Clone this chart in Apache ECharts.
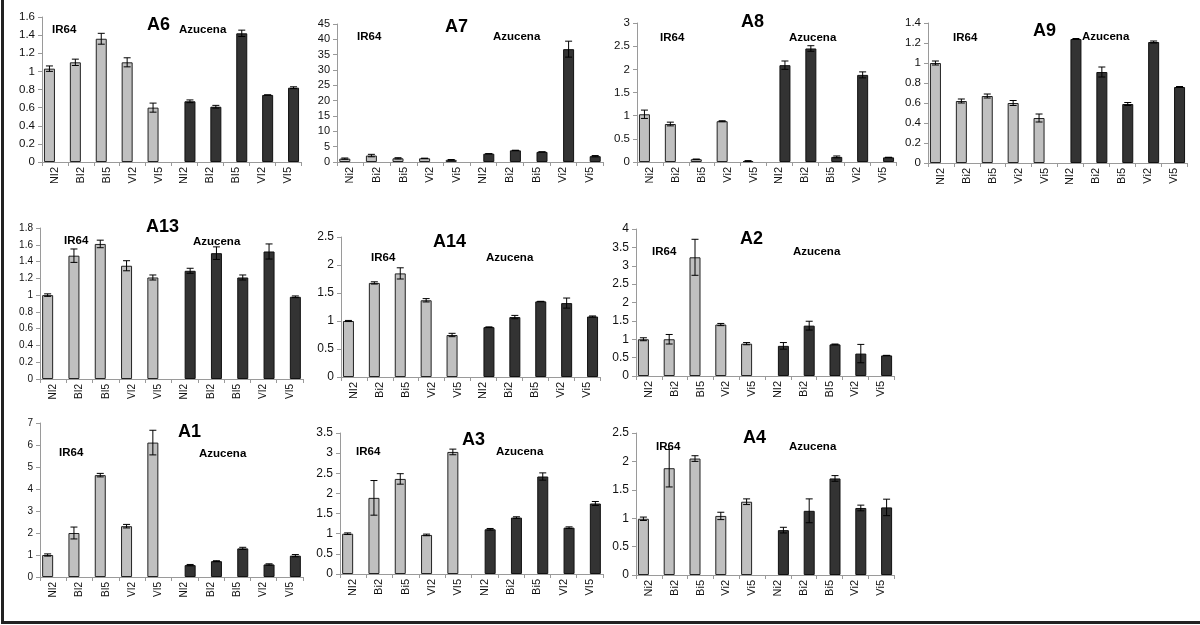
<!DOCTYPE html>
<html>
<head>
<meta charset="utf-8">
<title>IR64 / Azucena expression</title>
<script src="https://cdn.jsdelivr.net/npm/echarts@6/dist/echarts.min.js"></script>
<style>
  html, body { margin: 0; padding: 0; background: #fff; }
  #main { width: 1200px; height: 625px; }
</style>
</head>
<body>
<div id="main"></div>
<script>
// category labels (they differ slightly from panel to panel in the figure)
var catsUpper = ['NI2', 'BI2', 'BI5', 'VI2', 'VI5', 'NI2', 'BI2', 'BI5', 'VI2', 'VI5'];
var catsLower = ['Ni2', 'Bi2', 'Bi5', 'Vi2', 'Vi5', 'Ni2', 'Bi2', 'Bi5', 'Vi2', 'Vi5'];
var catsA7 = ['Ni2', 'Bi2', 'Bi5', 'Vi2', 'Vi5', 'NI2', 'Bi2', 'Bi5', 'Vi2', 'Vi5'];
var catsA9 = ['NI2', 'Bi2', 'Bi5', 'Vi2', 'Vi5', 'NI2', 'Bi2', 'Bi5', 'Vi2', 'Vi5'];
var catsA2 = ['NI2', 'Bi2', 'BI5', 'Vi2', 'Vi5', 'NI2', 'Bi2', 'BI5', 'Vi2', 'Vi5'];
var catsA3 = ['NI2', 'Bi2', 'Bi5', 'VI2', 'VI5', 'NI2', 'Bi2', 'Bi5', 'VI2', 'VI5'];

// values: IR64 (grey) and Azucena (black), with error bars
var a6Ir64 = [1.03, 1.10, 1.36, 1.10, 0.60];
var a6Ir64Err = [0.03, 0.035, 0.06, 0.05, 0.05];
var a6Azu = [0.67, 0.61, 1.42, 0.74, 0.82];
var a6AzuErr = [0.015, 0.015, 0.035, 0, 0.01];

var a7Ir64 = [1.1, 2.1, 1.2, 1.2, 0.7];
var a7Ir64Err = [0.2, 0.4, 0.2, 0, 0.1];
var a7Azu = [2.7, 3.8, 3.3, 36.8, 1.9];
var a7AzuErr = [0, 0, 0, 2.6, 0.2];

var a8Ir64 = [1.03, 0.82, 0.06, 0.88, 0.02];
var a8Ir64Err = [0.09, 0.04, 0, 0.01, 0.01];
var a8Azu = [2.09, 2.45, 0.11, 1.88, 0.1];
var a8AzuErr = [0.09, 0.06, 0.02, 0.065, 0];

var a9Ir64 = [1.0, 0.62, 0.67, 0.60, 0.45];
var a9Ir64Err = [0.02, 0.02, 0.02, 0.025, 0.04];
var a9Azu = [1.24, 0.91, 0.59, 1.21, 0.76];
var a9AzuErr = [0.005, 0.05, 0.015, 0.01, 0.005];

var a13Ir64 = [1.0, 1.47, 1.61, 1.35, 1.21];
var a13Ir64Err = [0.015, 0.08, 0.045, 0.06, 0.03];
var a13Azu = [1.29, 1.50, 1.21, 1.52, 0.98];
var a13AzuErr = [0.03, 0.075, 0.03, 0.09, 0.01];

var a14Ir64 = [1.0, 1.68, 1.85, 1.37, 0.75];
var a14Ir64Err = [0.01, 0.02, 0.1, 0.03, 0.03];
var a14Azu = [0.89, 1.07, 1.35, 1.32, 1.08];
var a14AzuErr = [0.005, 0.03, 0, 0.09, 0.01];

var a2Ir64 = [1.0, 1.0, 3.23, 1.4, 0.88];
var a2Ir64Err = [0.04, 0.13, 0.49, 0.03, 0.03];
var a2Azu = [0.82, 1.37, 0.86, 0.61, 0.56];
var a2AzuErr = [0.09, 0.12, 0.01, 0.25, 0];

var a1Ir64 = [1.0, 2.0, 4.63, 2.31, 6.11];
var a1Ir64Err = [0.05, 0.27, 0.08, 0.08, 0.56];
var a1Azu = [0.54, 0.72, 1.30, 0.57, 0.97];
var a1AzuErr = [0.03, 0.02, 0.05, 0.03, 0.05];

var a3Ir64 = [1.0, 1.89, 2.36, 0.97, 3.03];
var a3Ir64Err = [0.02, 0.43, 0.13, 0.02, 0.07];
var a3Azu = [1.11, 1.40, 2.42, 1.15, 1.75];
var a3AzuErr = [0.02, 0.02, 0.09, 0.02, 0.05];

var a4Ir64 = [0.99, 1.88, 2.05, 1.04, 1.29];
var a4Ir64Err = [0.03, 0.33, 0.05, 0.065, 0.05];
var a4Azu = [0.79, 1.13, 1.70, 1.18, 1.19];
var a4AzuErr = [0.05, 0.21, 0.05, 0.05, 0.145];

// layout: grid box [left, top, width, height], label anchors [x, y]
var panels = [
  {name: 'A6', cats: catsUpper, ir: a6Ir64, irErr: a6Ir64Err, az: a6Azu, azErr: a6AzuErr, max: 1.6, step: 0.2,
   box: [42, 17, 259, 145], yFont: 11.5, xFont: 11, title: [147, 25], irPos: [52, 30], azPos: [179, 30]},
  {name: 'A7', cats: catsA7, ir: a7Ir64, irErr: a7Ir64Err, az: a7Azu, azErr: a7AzuErr, max: 45, step: 5,
   box: [337, 24, 266, 138], yFont: 11, xFont: 11, title: [445, 27], irPos: [357, 37], azPos: [493, 37]},
  {name: 'A8', cats: catsA7, ir: a8Ir64, irErr: a8Ir64Err, az: a8Azu, azErr: a8AzuErr, max: 3, step: 0.5,
   box: [637, 23, 259, 139], yFont: 11.5, xFont: 11, title: [741, 22], irPos: [660, 38], azPos: [789, 38]},
  {name: 'A9', cats: catsA9, ir: a9Ir64, irErr: a9Ir64Err, az: a9Azu, azErr: a9AzuErr, max: 1.4, step: 0.2,
   box: [928, 23, 259, 140], yFont: 11.5, xFont: 11, title: [1033, 31], irPos: [953, 38], azPos: [1082, 37]},
  {name: 'A13', cats: catsUpper, ir: a13Ir64, irErr: a13Ir64Err, az: a13Azu, azErr: a13AzuErr, max: 1.8, step: 0.2,
   box: [40, 228, 263, 151], yFont: 10, xFont: 10, title: [146, 227], irPos: [64, 241], azPos: [193, 242]},
  {name: 'A14', cats: catsA9, ir: a14Ir64, irErr: a14Ir64Err, az: a14Azu, azErr: a14AzuErr, max: 2.5, step: 0.5,
   box: [341, 237, 259, 140], yFont: 12, xFont: 11, title: [433, 242], irPos: [371, 258], azPos: [486, 258]},
  {name: 'A2', cats: catsA2, ir: a2Ir64, irErr: a2Ir64Err, az: a2Azu, azErr: a2AzuErr, max: 4, step: 0.5,
   box: [636, 229, 258, 147], yFont: 12, xFont: 11, title: [740, 239], irPos: [652, 252], azPos: [793, 252]},
  {name: 'A1', cats: catsUpper, ir: a1Ir64, irErr: a1Ir64Err, az: a1Azu, azErr: a1AzuErr, max: 7, step: 1,
   box: [40, 423, 263, 154], yFont: 10, xFont: 10, title: [178, 432], irPos: [59, 453], azPos: [199, 454]},
  {name: 'A3', cats: catsA3, ir: a3Ir64, irErr: a3Ir64Err, az: a3Azu, azErr: a3AzuErr, max: 3.5, step: 0.5,
   box: [340, 433, 263, 141], yFont: 12, xFont: 11, title: [462, 440], irPos: [356, 452], azPos: [496, 452]},
  {name: 'A4', cats: catsLower, ir: a4Ir64, irErr: a4Ir64Err, az: a4Azu, azErr: a4AzuErr, max: 2.5, step: 0.5,
   box: [636, 433, 258, 142], yFont: 12, xFont: 11, title: [743, 438], irPos: [656, 447], azPos: [789, 447]}
];

var FONT = '"Liberation Sans", Arial, sans-serif';
var BAR_W = 11;

function blanks(n) {
    var a = [];
    for (var i = 0; i < n; i++) a.push('-');
    return a;
}

// error bar drawn at the bar's centre (bars sit side by side, so +-half a bar)
function errRenderer(offset) {
    return function (params, api) {
        var i = api.value(0), v = api.value(1), e = api.value(2);
        var hi = api.coord([i, v + e]);
        var lo = api.coord([i, v - e]);
        var x = hi[0] + offset;
        var st = {stroke: '#000', lineWidth: 1};
        return {
            type: 'group',
            children: [
                {type: 'line', shape: {x1: x, y1: hi[1], x2: x, y2: lo[1]}, style: st},
                {type: 'line', shape: {x1: x - 3.5, y1: hi[1], x2: x + 3.5, y2: hi[1]}, style: st},
                {type: 'line', shape: {x1: x - 3.5, y1: lo[1], x2: x + 3.5, y2: lo[1]}, style: st}
            ]
        };
    };
}

var grids = [], xAxes = [], yAxes = [], series = [], texts = [];

panels.forEach(function (p, k) {
    grids.push({left: p.box[0], top: p.box[1], width: p.box[2], height: p.box[3], containLabel: false});
    xAxes.push({
        type: 'category', gridIndex: k, data: p.cats,
        axisLine: {lineStyle: {color: '#9a9a9a', width: 1}},
        axisTick: {show: true, length: 4, lineStyle: {color: '#9a9a9a'}},
        axisLabel: {rotate: 90, margin: 5, color: '#111', fontSize: p.xFont, fontFamily: FONT}
    });
    yAxes.push({
        type: 'value', gridIndex: k, min: 0, max: p.max, interval: p.step,
        axisLine: {show: true, lineStyle: {color: '#9a9a9a', width: 1}},
        axisTick: {show: true, length: 4, lineStyle: {color: '#9a9a9a'}},
        splitLine: {show: false},
        axisLabel: {margin: 7, color: '#111', fontSize: p.yFont, fontFamily: FONT}
    });

    series.push({
        type: 'bar', xAxisIndex: k, yAxisIndex: k, barWidth: BAR_W, barGap: '0%',
        data: p.ir.concat(blanks(5)),
        itemStyle: {color: '#c0c0c0', borderColor: '#222', borderWidth: 1},
        silent: true
    });
    series.push({
        type: 'bar', xAxisIndex: k, yAxisIndex: k, barWidth: BAR_W, barGap: '0%',
        data: blanks(5).concat(p.az),
        itemStyle: {color: '#333333', borderColor: '#111', borderWidth: 1},
        silent: true
    });

    var irE = p.ir.map(function (v, i) { return [i, v, p.irErr[i]]; });
    var azE = p.az.map(function (v, i) { return [i + 5, v, p.azErr[i]]; });
    series.push({type: 'custom', xAxisIndex: k, yAxisIndex: k, z: 5, silent: true,
        renderItem: errRenderer(-BAR_W / 2), data: irE});
    series.push({type: 'custom', xAxisIndex: k, yAxisIndex: k, z: 5, silent: true,
        renderItem: errRenderer(BAR_W / 2), data: azE});

    texts.push({type: 'text', x: p.title[0], y: p.title[1], z: 10,
        style: {text: p.name, font: 'bold 18px ' + FONT, fill: '#000', textVerticalAlign: 'middle'}});
    texts.push({type: 'text', x: p.irPos[0], y: p.irPos[1], z: 10,
        style: {text: 'IR64', font: 'bold 11.5px ' + FONT, fill: '#000', textVerticalAlign: 'middle'}});
    texts.push({type: 'text', x: p.azPos[0], y: p.azPos[1], z: 10,
        style: {text: 'Azucena', font: 'bold 11.5px ' + FONT, fill: '#000', textVerticalAlign: 'middle'}});
});

// outer frame of the figure (left and bottom edges)
texts.push({type: 'line', shape: {x1: 2.5, y1: 0, x2: 2.5, y2: 622}, style: {stroke: '#222', lineWidth: 3}});
texts.push({type: 'line', shape: {x1: 1, y1: 622.5, x2: 1200, y2: 622.5}, style: {stroke: '#222', lineWidth: 3}});

var myChart = echarts.init(document.getElementById('main'));
var option = {
    backgroundColor: '#fff',
    animation: false,
    grid: grids,
    xAxis: xAxes,
    yAxis: yAxes,
    series: series,
    graphic: texts
};
myChart.setOption(option);
window.onresize = myChart.resize;
</script>
</body>
</html>
